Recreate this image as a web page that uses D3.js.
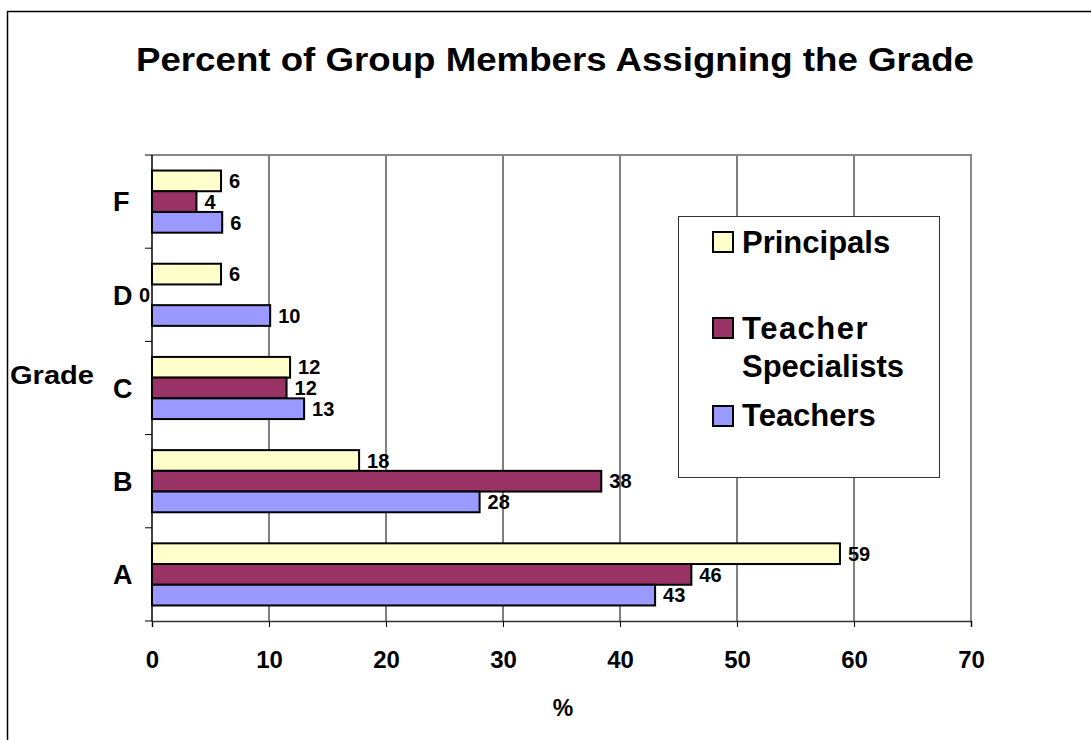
<!DOCTYPE html>
<html>
<head>
<meta charset="utf-8">
<script src="https://cdn.jsdelivr.net/npm/d3@7"></script>
<style>
  html, body { margin: 0; padding: 0; background: #fff; }
  svg { display: block; font-family: "Liberation Sans", Arial, sans-serif; font-weight: bold; }
</style>
</head>
<body>
<svg id="chart" width="1091" height="740"></svg>
<script>
// ---- data ----
const categories = ["F", "D", "C", "B", "A"];           // top to bottom
const seriesNames = ["Principals", "Teacher Specialists", "Teachers"];
const principals  = [5.9, 5.9, 11.8, 17.7, 58.8];
const specialists = [3.8, 0, 11.5, 38.4, 46.1];
const teachers    = [6.0, 10.1, 13.0, 28.0, 43.0];
const xTicks = [0, 10, 20, 30, 40, 50, 60, 70];
const colors = ["#FFFFCC", "#993366", "#9999FF"];

const seriesValues = [principals, specialists, teachers];

const svg = d3.select("#chart");

// outer frame (top & left visible)
svg.append("path")
  .attr("d", "M7.5,745 L7.5,11.5 L1100,11.5")
  .attr("fill", "none").attr("stroke", "#000").attr("stroke-width", 1.5);

// title
svg.append("text")
  .attr("x", 555).attr("y", 71)
  .attr("text-anchor", "middle")
  .attr("font-size", 34)
  .attr("textLength", 838).attr("lengthAdjust", "spacingAndGlyphs")
  .text("Percent of Group Members Assigning the Grade");

const plot = { left: 152, right: 971, top: 155, bottom: 621 };

const x = d3.scaleLinear().domain([0, 70]).range([plot.left, plot.right]);
const y = d3.scaleBand().domain(categories).range([plot.top, plot.bottom]);
const inner = d3.scaleBand().domain(seriesNames)
  .range([y.bandwidth() / 6, y.bandwidth() * 5 / 6]);

// gridlines
svg.append("g").selectAll("line")
  .data(xTicks.filter(t => t > 0 && t < 70))
  .join("line")
  .attr("x1", d => x(d)).attr("x2", d => x(d))
  .attr("y1", plot.top).attr("y2", plot.bottom)
  .attr("stroke", "#000").attr("stroke-width", 1);

// plot frame top/right (grey)
svg.append("path")
  .attr("d", `M${plot.left},${plot.top} L${plot.right},${plot.top} L${plot.right},${plot.bottom}`)
  .attr("fill", "none").attr("stroke", "#888").attr("stroke-width", 2);

// x axis
const xAxis = d3.axisBottom(x).tickValues(xTicks).tickSize(6).tickPadding(24);
const gx = svg.append("g").attr("transform", `translate(0,${plot.bottom})`).call(xAxis);
gx.select(".domain").attr("stroke", "#333").attr("stroke-width", 1.5);
gx.selectAll(".tick line").attr("stroke", "#000");
gx.selectAll(".tick text")
  .attr("font-family", "Liberation Sans, Arial, sans-serif")
  .attr("font-weight", "bold").attr("font-size", 24).attr("fill", "#000");

// y axis: ticks at band boundaries
const boundaries = categories.map(c => y(c)).concat([plot.bottom]);
svg.append("line")
  .attr("x1", plot.left).attr("x2", plot.left)
  .attr("y1", plot.top).attr("y2", plot.bottom)
  .attr("stroke", "#000").attr("stroke-width", 1.5);
svg.append("g").selectAll("line").data(boundaries).join("line")
  .attr("x1", plot.left - 7).attr("x2", plot.left)
  .attr("y1", d => d).attr("y2", d => d)
  .attr("stroke", "#000").attr("stroke-width", 1);

// category labels
svg.append("g").selectAll("text").data(categories).join("text")
  .attr("x", 113)
  .attr("y", d => y(d) + y.bandwidth() / 2)
  .attr("dy", "0.36em")
  .attr("font-size", 27)
  .text(d => d);

// bars
const groups = svg.append("g").selectAll("g").data(seriesNames).join("g");
groups.each(function(name, si) {
  const g = d3.select(this);
  const vals = seriesValues[si];
  g.selectAll("rect").data(categories.map((c, i) => ({ c, v: vals[i] })).filter(d => d.v > 0))
    .join("rect")
    .attr("x", x(0))
    .attr("y", d => y(d.c) + inner(name))
    .attr("width", d => x(d.v) - x(0))
    .attr("height", inner.bandwidth())
    .attr("fill", colors[si])
    .attr("stroke", "#000").attr("stroke-width", 2);
  g.selectAll("text").data(categories.map((c, i) => ({ c, v: vals[i] })))
    .join("text")
    .attr("x", d => d.v > 0 ? x(d.v) + 8 : x(0) - 2)
    .attr("text-anchor", d => d.v > 0 ? "start" : "end")
    .attr("y", d => y(d.c) + inner(name) + inner.bandwidth() / 2)
    .attr("dy", "0.36em")
    .attr("font-size", 20)
    .text(d => Math.round(d.v));
});

// axis titles
svg.append("text").attr("x", 563).attr("y", 716).attr("text-anchor", "middle")
  .attr("font-size", 23).text("%");
svg.append("text").attr("x", 10).attr("y", 384).attr("font-size", 26)
  .attr("textLength", 84).attr("lengthAdjust", "spacingAndGlyphs").text("Grade");

// legend
const lg = svg.append("g");
lg.append("rect").attr("x", 678.5).attr("y", 216.5).attr("width", 261).attr("height", 261)
  .attr("fill", "#fff").attr("stroke", "#333").attr("stroke-width", 1);
const legendRows = [
  { lines: ["Principals"], sy: 232, by: 253 },
  { lines: ["Teacher", "Specialists"], sy: 318, by: 339 },
  { lines: ["Teachers"], sy: 406, by: 426 }
];
legendRows.forEach((r, i) => {
  lg.append("rect").attr("x", 713).attr("y", r.sy).attr("width", 20).attr("height", 20)
    .attr("fill", colors[i]).attr("stroke", "#000").attr("stroke-width", 2);
  r.lines.forEach((t, j) => {
    lg.append("text").attr("x", 742).attr("y", r.by + j * 38)
      .attr("font-size", 31)
      .attr("letter-spacing", t === "Teacher" ? 1.5 : 0)
      .text(t);
  });
});
</script>
</body>
</html>
